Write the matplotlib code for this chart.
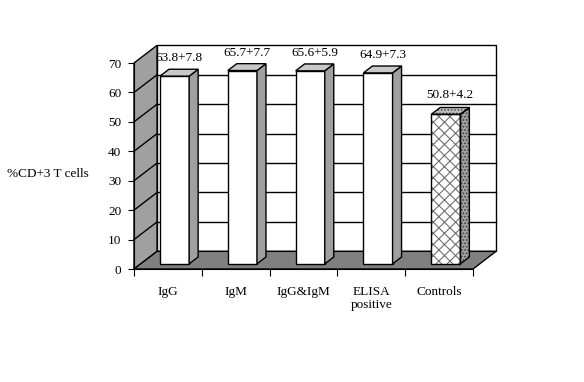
import matplotlib
matplotlib.use("Agg")
import matplotlib.pyplot as plt
from matplotlib.patches import Polygon

plt.rcParams['font.family'] = ['Liberation Serif', 'DejaVu Serif']
plt.rcParams['hatch.linewidth'] = 0.8

# Data
categories = ["IgG", "IgM", "IgG&IgM", "ELISA\npositive", "Controls"]
values = [63.8, 65.7, 65.6, 64.9, 50.8]
labels = ["63.8+7.8", "65.7+7.7", "65.6+5.9", "64.9+7.3", "50.8+4.2"]
yticks = [0, 10, 20, 30, 40, 50, 60, 70]

# 3D look: depth offset in data units
DX, DY = 0.34, 6.0
f0, f1 = 0.29, 0.68      # bar depth range (fraction of floor depth)
half_w = 0.215
fs = 9.5

fig = plt.figure(figsize=(5.84, 3.82), dpi=100)
ax = fig.add_axes([134 / 584, (382 - 269) / 382, 339 / 584, 206 / 382])
n = len(categories)
x0, x1 = -0.5, n - 0.5
ymax = 70
ax.set_xlim(x0, x1)
ax.set_ylim(0, ymax)

# back wall
ax.add_patch(Polygon([(x0 + DX, DY), (x1 + DX, DY), (x1 + DX, ymax + DY), (x0 + DX, ymax + DY)],
                     closed=True, facecolor='white', edgecolor='black', lw=1, clip_on=False, zorder=1))
for v in yticks[1:-1]:
    ax.plot([x0 + DX, x1 + DX], [v + DY, v + DY], color='black', lw=1, clip_on=False, zorder=1.5)

# left wall
ax.add_patch(Polygon([(x0, 0), (x0 + DX, DY), (x0 + DX, ymax + DY), (x0, ymax)],
                     closed=True, facecolor='#a0a0a0', edgecolor='black', lw=1, clip_on=False, zorder=2))
for v in yticks[1:-1]:
    ax.plot([x0, x0 + DX], [v, v + DY], color='black', lw=1, clip_on=False, zorder=2.5)

# floor
ax.add_patch(Polygon([(x0, 0), (x1, 0), (x1 + DX, DY), (x0 + DX, DY)],
                     closed=True, facecolor='#808080', edgecolor='black', lw=1, clip_on=False, zorder=2))

# bars
dd_x, dd_y = (f1 - f0) * DX, (f1 - f0) * DY
for i, (val, lab) in enumerate(zip(values, labels)):
    L = i - half_w + f0 * DX
    R = i + half_w + f0 * DX
    b = f0 * DY
    t = val + f0 * DY
    front = [(L, b), (R, b), (R, t), (L, t)]
    side = [(R, b), (R + dd_x, b + dd_y), (R + dd_x, t + dd_y), (R, t)]
    top = [(L, t), (R, t), (R + dd_x, t + dd_y), (L + dd_x, t + dd_y)]
    if i == n - 1:
        ax.add_patch(Polygon(front, closed=True, facecolor='white', edgecolor='#707070', hatch='xxx', lw=0, zorder=5))
        ax.add_patch(Polygon(side, closed=True, facecolor='#a0a0a0', edgecolor='#404040', hatch='.....', lw=0, zorder=5))
        ax.add_patch(Polygon(top, closed=True, facecolor='#c0c0c0', edgecolor='#505050', hatch='.....', lw=0, zorder=5))
        for poly in (front, side, top):
            ax.add_patch(Polygon(poly, closed=True, fill=False, edgecolor='black', lw=1, zorder=6))
    else:
        ax.add_patch(Polygon(front, closed=True, facecolor='white', edgecolor='black', lw=1, zorder=5))
        ax.add_patch(Polygon(side, closed=True, facecolor='#a0a0a0', edgecolor='black', lw=1, zorder=5))
        ax.add_patch(Polygon(top, closed=True, facecolor='#c8c8c8', edgecolor='black', lw=1, zorder=5))
    ax.annotate(lab, (i + (f0 + f1) / 2 * DX, t + dd_y), xytext=(0, 4.5 if i == n - 1 else 3.5),
                textcoords='offset points', ha='center', va='bottom', fontsize=fs, zorder=7,
                annotation_clip=False)

# axes
for s in ['top', 'right']:
    ax.spines[s].set_visible(False)
ax.spines['left'].set_zorder(8)
ax.spines['bottom'].set_zorder(8)
ax.set_facecolor('none')
ax.set_yticks(yticks)
ax.tick_params(axis='y', direction='out', length=4, labelsize=fs, pad=5)
ax.set_xticks([k - 0.5 for k in range(n + 1)])
ax.set_xticklabels([])
ax.tick_params(axis='x', direction='out', length=5)
ax.set_xticks(range(n), minor=True)
ax.set_xticklabels(categories, minor=True, fontsize=fs, linespacing=1.15, va='top')
ax.tick_params(axis='x', which='minor', length=0, pad=12)

ax.set_ylabel("%CD+3 T cells", rotation=0, fontsize=fs, ha='center', va='center')
ax.yaxis.set_label_coords(-0.254, 0.46)

fig.savefig("out.png", dpi=100)
